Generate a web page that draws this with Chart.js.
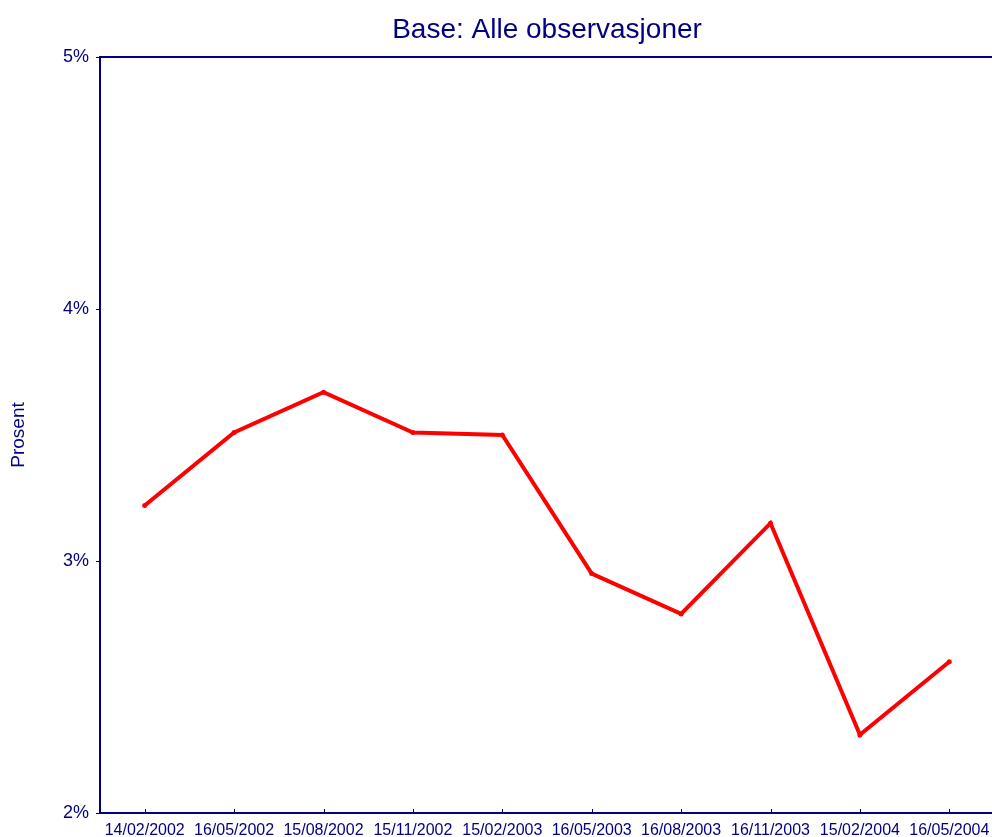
<!DOCTYPE html>
<html>
<head>
<meta charset="utf-8">
<script src="https://cdn.jsdelivr.net/npm/chart.js@4/dist/chart.umd.min.js"></script>
<style>
    html, body { margin: 0; padding: 0; background: #fff; overflow: hidden; }
</style>
</head>
<body>
<canvas id="lineChart" width="1000" height="837"></canvas>
<script>
const dates = ['14/02/2002', '16/05/2002', '15/08/2002', '15/11/2002', '15/02/2003',
    '16/05/2003', '16/08/2003', '16/11/2003', '15/02/2004', '16/05/2004'];
const prosent = [3.22, 3.51, 3.67, 3.51, 3.50, 2.95, 2.79, 3.15, 2.31, 2.60];
const yTicks = [2, 3, 4, 5];

const navy = '#000080';
const fontFamily = '"Liberation Sans", Arial, sans-serif';

// top frame line plus inward tick marks on the x axis
const frame = {
    id: 'frame',
    afterDraw: (chart) => {
        const ctx = chart.ctx;
        const area = chart.chartArea;
        const xScale = chart.scales.x;
        ctx.save();
        ctx.strokeStyle = navy;
        ctx.lineWidth = 2;
        ctx.beginPath();
        ctx.moveTo(area.left, area.top);
        ctx.lineTo(area.right + 10, area.top);
        ctx.stroke();
        ctx.lineWidth = 1;
        ctx.beginPath();
        for (let i = 0; i < dates.length; i++) {
            const x = Math.round(xScale.getPixelForTick(i)) + 0.5;
            ctx.moveTo(x, area.bottom);
            ctx.lineTo(x, area.bottom - 4);
        }
        ctx.stroke();
        ctx.restore();
    }
};

const ctx = document.getElementById('lineChart').getContext('2d');
new Chart(ctx, {
    type: 'line',
    data: {
        labels: dates,
        datasets: [{
            data: prosent,
            borderColor: '#ff0000',
            backgroundColor: '#ff0000',
            borderWidth: 4,
            pointRadius: 2.5,
            pointHoverRadius: 2.5,
            pointBorderWidth: 0,
            tension: 0
        }]
    },
    options: {
        responsive: false,
        animation: false,
        layout: { padding: { left: 0, right: 6, top: 0, bottom: 0 } },
        plugins: {
            legend: { display: false },
            tooltip: { enabled: false },
            title: {
                display: true,
                fullSize: false,
                text: 'Base: Alle observasjoner',
                color: navy,
                font: { family: fontFamily, size: 28, weight: 'normal' },
                padding: { top: 13, bottom: 10.4 }
            }
        },
        scales: {
            x: {
                offset: true,
                grid: { display: false, drawTicks: false },
                border: { display: true, color: navy, width: 2 },
                ticks: {
                    color: navy,
                    padding: 8,
                    maxRotation: 0,
                    autoSkip: false,
                    font: { family: fontFamily, size: 16 }
                },
                afterFit: (scale) => { scale.height = 24; }
            },
            y: {
                min: 2,
                max: 5,
                afterBuildTicks: (scale) => { scale.ticks = yTicks.map(v => ({ value: v })); },
                grid: { drawOnChartArea: false, color: navy, tickLength: 4 },
                border: { color: navy, width: 2 },
                ticks: {
                    color: navy,
                    padding: 7,
                    font: { family: fontFamily, size: 18 },
                    callback: (v) => v + '%'
                },
                title: {
                    display: true,
                    text: 'Prosent',
                    color: navy,
                    font: { family: fontFamily, size: 19 },
                    padding: { top: 7, bottom: 0 }
                },
                afterFit: (scale) => { scale.width = 100; }
            }
        }
    },
    plugins: [frame]
});
</script>
</body>
</html>
